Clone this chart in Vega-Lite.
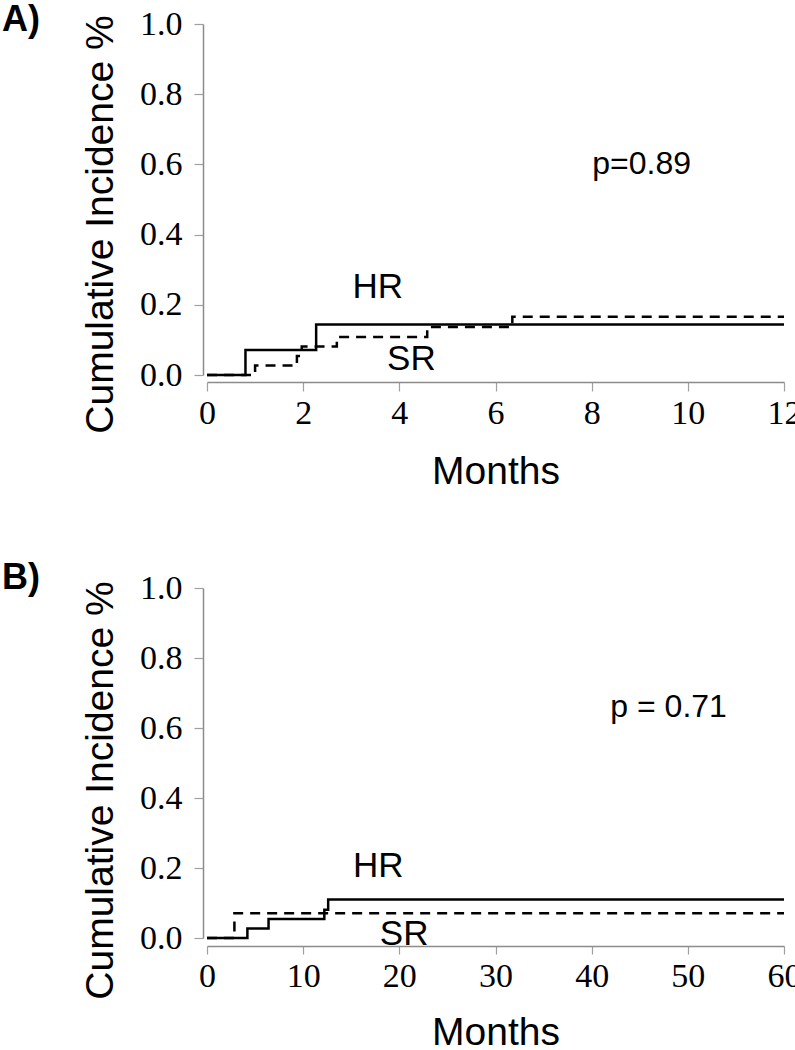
{
  "$schema": "https://vega.github.io/schema/vega-lite/v6.json",
  "background": "white",
  "padding": {"left": 2, "top": 2, "right": 0, "bottom": 0},
  "spacing": 69,
  "datasets": {
    "curvesA": [
      {"group": "HR", "months": 0, "incidence": 0},
      {"group": "HR", "months": 0.8, "incidence": 0.071},
      {"group": "HR", "months": 2.27, "incidence": 0.144},
      {"group": "HR", "months": 12, "incidence": 0.144},
      {"group": "SR", "months": 0, "incidence": 0},
      {"group": "SR", "months": 1.0, "incidence": 0.027},
      {"group": "SR", "months": 1.87, "incidence": 0.054},
      {"group": "SR", "months": 1.97, "incidence": 0.081},
      {"group": "SR", "months": 2.7, "incidence": 0.108},
      {"group": "SR", "months": 4.58, "incidence": 0.137},
      {"group": "SR", "months": 6.35, "incidence": 0.166},
      {"group": "SR", "months": 12, "incidence": 0.166}
    ],
    "curvesB": [
      {"group": "HR", "months": 0, "incidence": 0},
      {"group": "HR", "months": 4.2, "incidence": 0.027},
      {"group": "HR", "months": 6.4, "incidence": 0.054},
      {"group": "HR", "months": 12.2, "incidence": 0.081},
      {"group": "HR", "months": 12.6, "incidence": 0.11},
      {"group": "HR", "months": 60, "incidence": 0.11},
      {"group": "SR", "months": 0, "incidence": 0},
      {"group": "SR", "months": 2.85, "incidence": 0.071},
      {"group": "SR", "months": 60, "incidence": 0.071}
    ],
    "pA": [{"text": "p=0.89", "months": 9.04, "incidence": 0.6}],
    "groupsA": [
      {"text": "HR", "months": 3.55, "incidence": 0.25},
      {"text": "SR", "months": 4.25, "incidence": 0.045}
    ],
    "pB": [{"text": "p = 0.71", "months": 48.0, "incidence": 0.66}],
    "groupsB": [
      {"text": "HR", "months": 17.8, "incidence": 0.205},
      {"text": "SR", "months": 20.5, "incidence": 0.011}
    ]
  },
  "vconcat": [
    {
      "width": 577,
      "height": 351,
      "title": {"text": "A)", "anchor": "start", "frame": "group", "font": "Liberation Sans", "fontSize": 36, "fontWeight": "bold", "color": "black", "baseline": "alphabetic", "offset": 0, "dx": -205, "dy": 60},
      "layer": [
        {
          "data": {"name": "curvesA"},
          "mark": {"type": "line", "interpolate": "step-after", "color": "black", "strokeWidth": 2.5},
          "encoding": {
            "x": {"field": "months", "type": "quantitative", "scale": {"domain": [0, 12], "nice": false, "zero": false},
              "axis": {"values": [0, 2, 4, 6, 8, 10, 12], "title": "Months", "offset": 7, "tickSize": 9, "labelPadding": 5, "titlePadding": 22, "labelFlush": false}},
            "y": {"field": "incidence", "type": "quantitative", "scale": {"domain": [0, 1], "nice": false},
              "axis": {"values": [0, 0.2, 0.4, 0.6, 0.8, 1.0], "format": ".1f", "title": "Cumulative Incidence %", "offset": 4, "tickSize": 9, "labelPadding": 12, "titleX": -91, "titleY": 200, "titleBaseline": "alphabetic", "titleAlign": "center", "labelFlush": false}},
            "strokeDash": {"field": "group", "type": "nominal", "scale": {"domain": ["HR", "SR"], "range": [[1, 0], [10, 7]]}, "legend": null}
          }
        },
        {
          "data": {"name": "pA"},
          "mark": {"type": "text", "font": "Liberation Sans", "fontSize": 32, "color": "black"},
          "encoding": {
            "x": {"field": "months", "type": "quantitative"},
            "y": {"field": "incidence", "type": "quantitative"},
            "text": {"field": "text"}
          }
        },
        {
          "data": {"name": "groupsA"},
          "mark": {"type": "text", "font": "Liberation Sans", "fontSize": 35, "color": "black"},
          "encoding": {
            "x": {"field": "months", "type": "quantitative"},
            "y": {"field": "incidence", "type": "quantitative"},
            "text": {"field": "text"}
          }
        }
      ]
    },
    {
      "width": 577,
      "height": 350,
      "title": {"text": "B)", "anchor": "start", "frame": "group", "font": "Liberation Sans", "fontSize": 36, "fontWeight": "bold", "color": "black", "baseline": "alphabetic", "offset": 0, "dx": -205, "dy": 54},
      "layer": [
        {
          "data": {"name": "curvesB"},
          "mark": {"type": "line", "interpolate": "step-after", "color": "black", "strokeWidth": 2.5},
          "encoding": {
            "x": {"field": "months", "type": "quantitative", "scale": {"domain": [0, 60], "nice": false, "zero": false},
              "axis": {"values": [0, 10, 20, 30, 40, 50, 60], "title": "Months", "offset": 8, "tickSize": 8, "labelPadding": 5, "titlePadding": 20, "labelFlush": false}},
            "y": {"field": "incidence", "type": "quantitative", "scale": {"domain": [0, 1], "nice": false},
              "axis": {"values": [0, 0.2, 0.4, 0.6, 0.8, 1.0], "format": ".1f", "title": "Cumulative Incidence %", "offset": 4, "tickSize": 9, "labelPadding": 12, "titleX": -91, "titleY": 202, "titleBaseline": "alphabetic", "titleAlign": "center", "labelFlush": false}},
            "strokeDash": {"field": "group", "type": "nominal", "scale": {"domain": ["HR", "SR"], "range": [[1, 0], [10, 7]]}, "legend": null}
          }
        },
        {
          "data": {"name": "pB"},
          "mark": {"type": "text", "font": "Liberation Sans", "fontSize": 32, "color": "black"},
          "encoding": {
            "x": {"field": "months", "type": "quantitative"},
            "y": {"field": "incidence", "type": "quantitative"},
            "text": {"field": "text"}
          }
        },
        {
          "data": {"name": "groupsB"},
          "mark": {"type": "text", "font": "Liberation Sans", "fontSize": 35, "color": "black"},
          "encoding": {
            "x": {"field": "months", "type": "quantitative"},
            "y": {"field": "incidence", "type": "quantitative"},
            "text": {"field": "text"}
          }
        }
      ]
    }
  ],
  "config": {
    "view": {"stroke": null},
    "axis": {"grid": false, "domainColor": "#8c8c8c", "domainWidth": 1.5, "tickColor": "#a0a0a0", "tickWidth": 1.2, "labelFont": "Liberation Serif", "labelFontSize": 34, "labelColor": "black", "titleFont": "Liberation Sans", "titleFontSize": 39, "titleFontWeight": "normal", "titleColor": "black"}
  }
}
